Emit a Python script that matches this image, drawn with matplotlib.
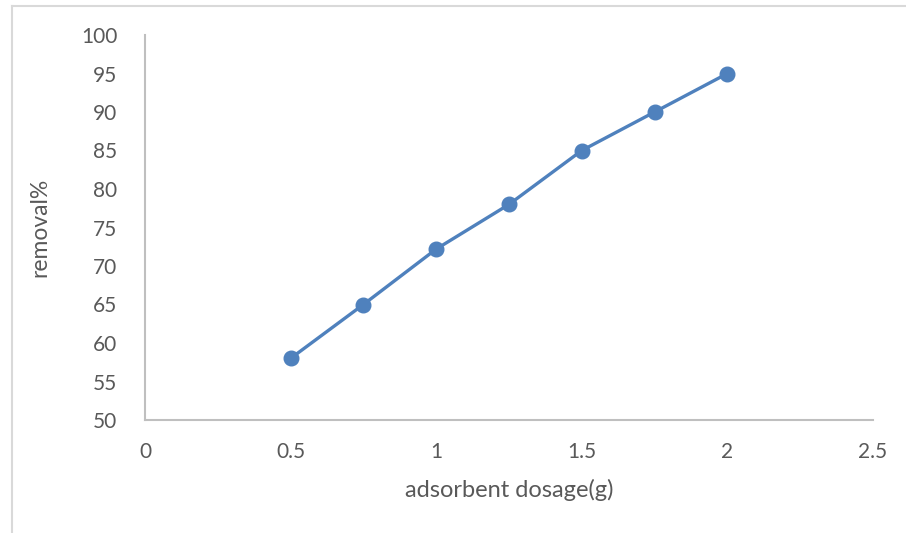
import matplotlib
matplotlib.use("Agg")
import matplotlib.pyplot as plt
from matplotlib.lines import Line2D

dosage = [0.5, 0.75, 1.0, 1.25, 1.5, 1.75, 2.0]
removal = [58, 65, 72.2, 78, 85, 90, 95]
x_ticks = [0, 0.5, 1, 1.5, 2, 2.5]
x_tick_labels = ["0", "0.5", "1", "1.5", "2", "2.5"]
y_ticks = [50, 55, 60, 65, 70, 75, 80, 85, 90, 95, 100]

plt.rcParams['font.family'] = ['Lato', 'DejaVu Sans']
text_color = "#595959"
axis_color = "#BFBFBF"

fig = plt.figure(figsize=(9.06, 5.33), dpi=100)
W, H = 906, 533
ax = fig.add_axes([145 / W, 1 - 420 / H, (873 - 145) / W, (420 - 35) / H])

ax.plot(dosage, removal, color="#4F81BD", linewidth=2.4, marker="o",
        markersize=10.5, markerfacecolor="#4F81BD", markeredgecolor="#4F81BD",
        solid_capstyle="round", zorder=3)

ax.set_xlim(0, 2.5)
ax.set_ylim(50, 100)
ax.set_xticks(x_ticks)
ax.set_xticklabels(x_tick_labels)
ax.set_yticks(y_ticks)

for side in ("top", "right"):
    ax.spines[side].set_visible(False)
for side in ("left", "bottom"):
    ax.spines[side].set_color(axis_color)
    ax.spines[side].set_linewidth(1.5)

ax.tick_params(axis="both", length=0, labelsize=15, colors=text_color)
ax.tick_params(axis="x", pad=16)
ax.tick_params(axis="y", pad=20)

ax.set_xlabel("adsorbent dosage(g)", fontsize=17, color=text_color, labelpad=12)
ax.set_ylabel("removal%", fontsize=16.5, color=text_color, labelpad=22)

# outer chart frame
fig.add_artist(Line2D([12 / W, 12 / W], [0, 1 - 6 / H], transform=fig.transFigure,
                      color="#D9D9D9", linewidth=1.5))
fig.add_artist(Line2D([12 / W, 1], [1 - 6 / H, 1 - 6 / H], transform=fig.transFigure,
                      color="#D9D9D9", linewidth=1.5))

fig.savefig("out.png", dpi=100, facecolor="white")
